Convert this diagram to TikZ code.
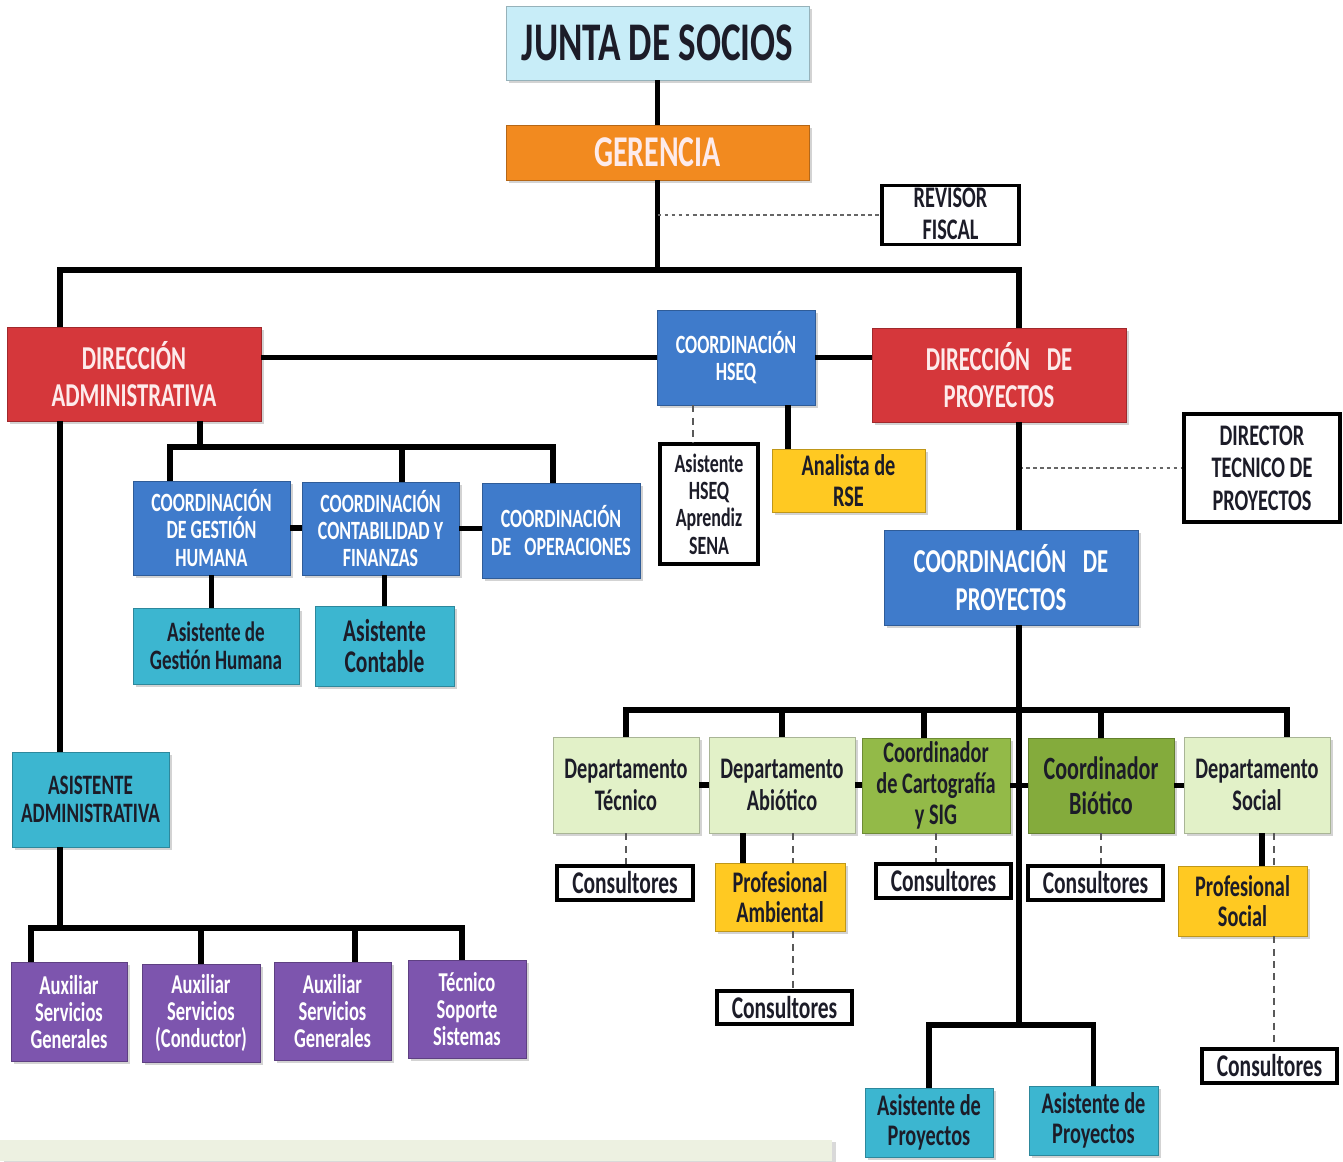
\documentclass[tikz,border=0pt]{standalone}
\usepackage{fontspec}
\setmainfont{Carlito}[FakeStretch=0.68]
\usetikzlibrary{positioning,shadows,calc}

\definecolor{cJunta}{HTML}{C8EDF8}
\definecolor{cOrange}{HTML}{F28A1F}
\definecolor{cRed}{HTML}{D5373B}
\definecolor{cBlue}{HTML}{3F7BCB}
\definecolor{cCyan}{HTML}{3CB6D0}
\definecolor{cPurple}{HTML}{7D55AE}
\definecolor{cPale}{HTML}{E2F1C8}
\definecolor{cCart}{HTML}{93BA48}
\definecolor{cBio}{HTML}{84AB3C}
\definecolor{cYellow}{HTML}{FFC922}
\definecolor{cPanel}{HTML}{EDF1E1}
\definecolor{cInk}{HTML}{1C1C28}
\definecolor{cPink}{HTML}{FDEBEB}

\begin{document}
\begin{tikzpicture}[
  x=0.02cm, y=-0.02cm,
  unit/.style 2 args={minimum width=#1*0.02cm, minimum height=#2*0.02cm},
  blk/.style={rectangle, align=center, inner sep=1pt, draw=#1!75!black, fill=#1,
    line width=0.5pt, drop shadow={shadow xshift=1.5pt, shadow yshift=-1.5pt, opacity=0.35}},
  redblk/.style={blk=cRed, text=cPink, font=\bfseries\fontsize{19}{21}\selectfont},
  blueblk/.style={blk=cBlue, text=white, font=\bfseries\fontsize{15}{15.5}\selectfont},
  cyanblk/.style={blk=cCyan, text=cInk, font=\bfseries\fontsize{16}{16}\selectfont},
  purpblk/.style={blk=cPurple, text=white, font=\bfseries\fontsize{15.5}{15.5}\selectfont},
  paleblk/.style={blk=cPale, text=cInk, font=\bfseries\fontsize{17}{18}\selectfont},
  yelblk/.style={blk=cYellow, text=cInk, font=\bfseries\fontsize{17}{17.5}\selectfont},
  wblk/.style={rectangle, align=center, inner sep=1pt, draw=black, fill=white,
    line width=2.2pt, text=cInk, font=\bfseries\fontsize{17}{18.5}\selectfont},
  consblk/.style={wblk, font=\bfseries\fontsize{18}{18}\selectfont},
  link/.style={line width=3pt},
  dotline/.style={draw=gray!80!black, line width=1.1pt, dash pattern=on 2.2pt off 1.8pt},
  dashline/.style={draw=gray!70!black, line width=1pt, dash pattern=on 4pt off 3pt}
]
\useasboundingbox (0,0) rectangle (1343,1161);
\fill[cPanel, drop shadow={shadow xshift=2pt, shadow yshift=-1pt, opacity=0.3}] (0,1140) rectangle (832,1161);

% Top of the chart
\node[blk=cJunta, unit={303}{74}, text=cInk, font=\bfseries\fontsize{31}{33}\selectfont] (junta) at (657.5,43) {JUNTA DE SOCIOS};
\node[blk=cOrange, unit={303}{55}, text=cPink, font=\bfseries\fontsize{25}{27}\selectfont] (ger) at (657.5,152.5) {GERENCIA};
\node[wblk, unit={137}{59}] (revisor) at (950.5,215) {};
\node[text=cInk, align=center, font=\bfseries\fontsize{17}{18.5}\selectfont] (revisorTxt) at (950.5,214) {REVISOR\\FISCAL};

% Directions and HSEQ
\node[redblk, unit={254}{94}] (diradm) at (134,374) {DIRECCIÓN\\ADMINISTRATIVA};
\node[blueblk, unit={158}{95}] (hseq) at (736,357.5) {COORDINACIÓN\\HSEQ};
\node[redblk, unit={254}{94}] (dirproy) at (999,375) {DIRECCIÓN\enspace DE\\PROYECTOS};
\node[wblk, unit={98}{120}, line width=1.8pt, font=\bfseries\fontsize{15}{15.5}\selectfont] (asisHseq) at (709,504) {Asistente\\HSEQ\\Aprendiz\\SENA};
\node[yelblk, unit={153}{63}] (rse) at (848.5,480.5) {Analista de\\RSE};
\node[wblk, unit={156}{108}] (dirtec) at (1262,468) {DIRECTOR\\TECNICO DE\\PROYECTOS};
\node[blueblk, unit={254}{95}, font=\bfseries\fontsize{19}{21.5}\selectfont] (coordproy) at (1011,577.5) {COORDINACIÓN\enspace DE\\PROYECTOS};

% Administrative branch
\node[blueblk, unit={157}{94}] (gh) at (211.5,528) {COORDINACIÓN\\DE GESTIÓN\\HUMANA};
\node[blueblk, unit={157}{93}] (conta) at (380.5,528.5) {COORDINACIÓN\\CONTABILIDAD Y\\FINANZAS};
\node[blueblk, unit={158}{95}] (oper) at (561,530.5) {COORDINACIÓN\\DE\enspace OPERACIONES};
\node[cyanblk, unit={166}{76}] (asgh) at (216,646) {Asistente de\\Gestión Humana};
\node[cyanblk, unit={139}{80}, font=\bfseries\fontsize{18}{18}\selectfont] (ascont) at (384.5,646) {Asistente\\Contable};
\node[cyanblk, unit={157}{95}] (asadm) at (90.5,799.5) {ASISTENTE\\ADMINISTRATIVA};
\node[purpblk, unit={116}{99}] (aux1) at (69,1012) {Auxiliar\\Servicios\\Generales};
\node[purpblk, unit={118}{98}] (aux2) at (201,1013) {Auxiliar\\Servicios\\(Conductor)};
\node[purpblk, unit={117}{98}] (aux3) at (332.5,1011) {Auxiliar\\Servicios\\Generales};
\node[purpblk, unit={118}{98}] (tec) at (467,1009) {Técnico\\Soporte\\Sistemas};

% Projects branch
\node[paleblk, unit={146}{96}] (dtec) at (626,785) {Departamento\\Técnico};
\node[paleblk, unit={146}{96}] (dabio) at (782,785) {Departamento\\Abiótico};
\node[blk=cCart, unit={148}{95}, text=cInk, font=\bfseries\fontsize{17}{17.5}\selectfont] (dcart) at (936,785.5) {Coordinador\\de Cartografía\\y SIG};
\node[blk=cBio, unit={146}{95}, text=cInk, font=\bfseries\fontsize{18.5}{20}\selectfont] (dbio) at (1101,785.5) {Coordinador\\Biótico};
\node[paleblk, unit={146}{96}] (dsoc) at (1257,785) {Departamento\\Social};
\node[consblk, unit={136}{34}] (cons1) at (625,883) {Consultores};
\node[yelblk, unit={130}{68}] (pamb) at (780,897) {Profesional\\Ambiental};
\node[consblk, unit={135}{33}] (cons2) at (784.5,1007.5) {Consultores};
\node[consblk, unit={135}{34}] (cons3) at (943.5,881) {Consultores};
\node[consblk, unit={135}{34}] (cons4) at (1095.5,883) {Consultores};
\node[yelblk, unit={129}{70}] (psoc) at (1242.5,901) {Profesional\\Social};
\node[consblk, unit={135}{34}] (cons5) at (1269.5,1066) {Consultores};
\node[cyanblk, unit={128}{69}, font=\bfseries\fontsize{17}{17}\selectfont] (asp1) at (929,1122.5) {Asistente de\\Proyectos};
\node[cyanblk, unit={129}{69}, font=\bfseries\fontsize{17}{17}\selectfont] (asp2) at (1093.5,1120.5) {Asistente de\\Proyectos};

% Bus points
\coordinate (busL) at (60,270);
\coordinate (busR) at (1019,270);
\coordinate (b1) at (200,447);
\coordinate (b1L) at (170,447);
\coordinate (b1M) at (402,447);
\coordinate (b1R) at (553,447);
\coordinate (b2) at (60,928);
\coordinate (b2L) at (31,928);
\coordinate (b2M) at (355,928);
\coordinate (b2R) at (462,928);
\coordinate (b3) at (1019,710);
\coordinate (b3C) at (924,710);
\coordinate (b3R) at (1287,710);
\coordinate (b4) at (1019,1025);
\coordinate (xHa) at (693,0);
\coordinate (xHb) at (788,0);
\coordinate (xPa) at (743,0);
\coordinate (xPb) at (793,0);
\coordinate (xSa) at (1262,0);
\coordinate (xSb) at (1274,0);

% Connections, top
\draw[link] (junta) -- (ger);
\draw[link] (ger.south) -- (ger.south |- busL);
\draw[link] (diradm.north -| busL) -- (busL) -- (busR) -- (dirproy.north -| busR);
\draw[dotline] (ger.south |- revisor.west) -- (revisor.west);
\draw[link] (diradm.east |- hseq.west) -- (hseq.west);
\draw[link] (hseq.east) -- (hseq.east -| dirproy.west);
\draw[dashline] (hseq.south -| xHa) -- (asisHseq.north -| xHa);
\draw[link] (hseq.south -| xHb) -- (rse.north -| xHb);
\draw[dotline] (dirtec.west -| busR) -- (dirtec.west);
\draw[link] (dirproy.south -| busR) -- (coordproy.north -| busR);

% Connections, administrative
\draw[link] (diradm.south -| b1) -- (b1);
\draw[link] (gh.north -| b1L) |- (b1R) -- (oper.north -| b1R);
\draw[link] (conta.north -| b1M) -- (b1M);
\draw[link] (gh.east) -- (gh.east -| conta.west);
\draw[link] (conta.east) -- (conta.east -| oper.west);
\draw[link] (gh.south) -- (gh.south |- asgh.north);
\draw[link] (conta.south -| ascont.north) -- (ascont.north);
\draw[link] (diradm.south -| busL) -- (asadm.north -| busL);
\draw[link] (asadm.south -| b2) -- (b2);
\draw[link] (aux1.north -| b2L) |- (b2R) -- (tec.north -| b2R);
\draw[link] (aux2.north) -- (aux2.north |- b2);
\draw[link] (aux3.north -| b2M) -- (b2M);

% Connections, projects
\draw[link] (coordproy.south -| b4) -- (b4);
\draw[link] (dtec.north) |- (b3R) -- (dsoc.north -| b3R);
\draw[link] (dabio.north) -- (dabio.north |- b3);
\draw[link] (dcart.north -| b3C) -- (b3C);
\draw[link] (dbio.north) -- (dbio.north |- b3);
\draw[link] (dtec.east) -- (dtec.east -| dabio.west);
\draw[link] (dabio.east) -- (dabio.east -| dcart.west);
\draw[link] (dcart.east) -- (dcart.east -| dbio.west);
\draw[link] (dbio.east) -- (dbio.east -| dsoc.west);
\draw[link] (asp1.north) |- (b4) -| (asp2.north);
\draw[dashline] (dtec.south) -- (dtec.south |- cons1.north);
\draw[link] (dabio.south -| xPa) -- (pamb.north -| xPa);
\draw[dashline] (dabio.south -| xPb) -- (pamb.north -| xPb);
\draw[dashline] (pamb.south -| xPb) -- (cons2.north -| xPb);
\draw[dashline] (dcart.south) -- (dcart.south |- cons3.north);
\draw[dashline] (dbio.south) -- (dbio.south |- cons4.north);
\draw[link] (dsoc.south -| xSa) -- (psoc.north -| xSa);
\draw[dashline] (dsoc.south -| xSb) -- (psoc.north -| xSb);
\draw[dashline] (psoc.south -| xSb) -- (cons5.north -| xSb);
\end{tikzpicture}
\end{document}
